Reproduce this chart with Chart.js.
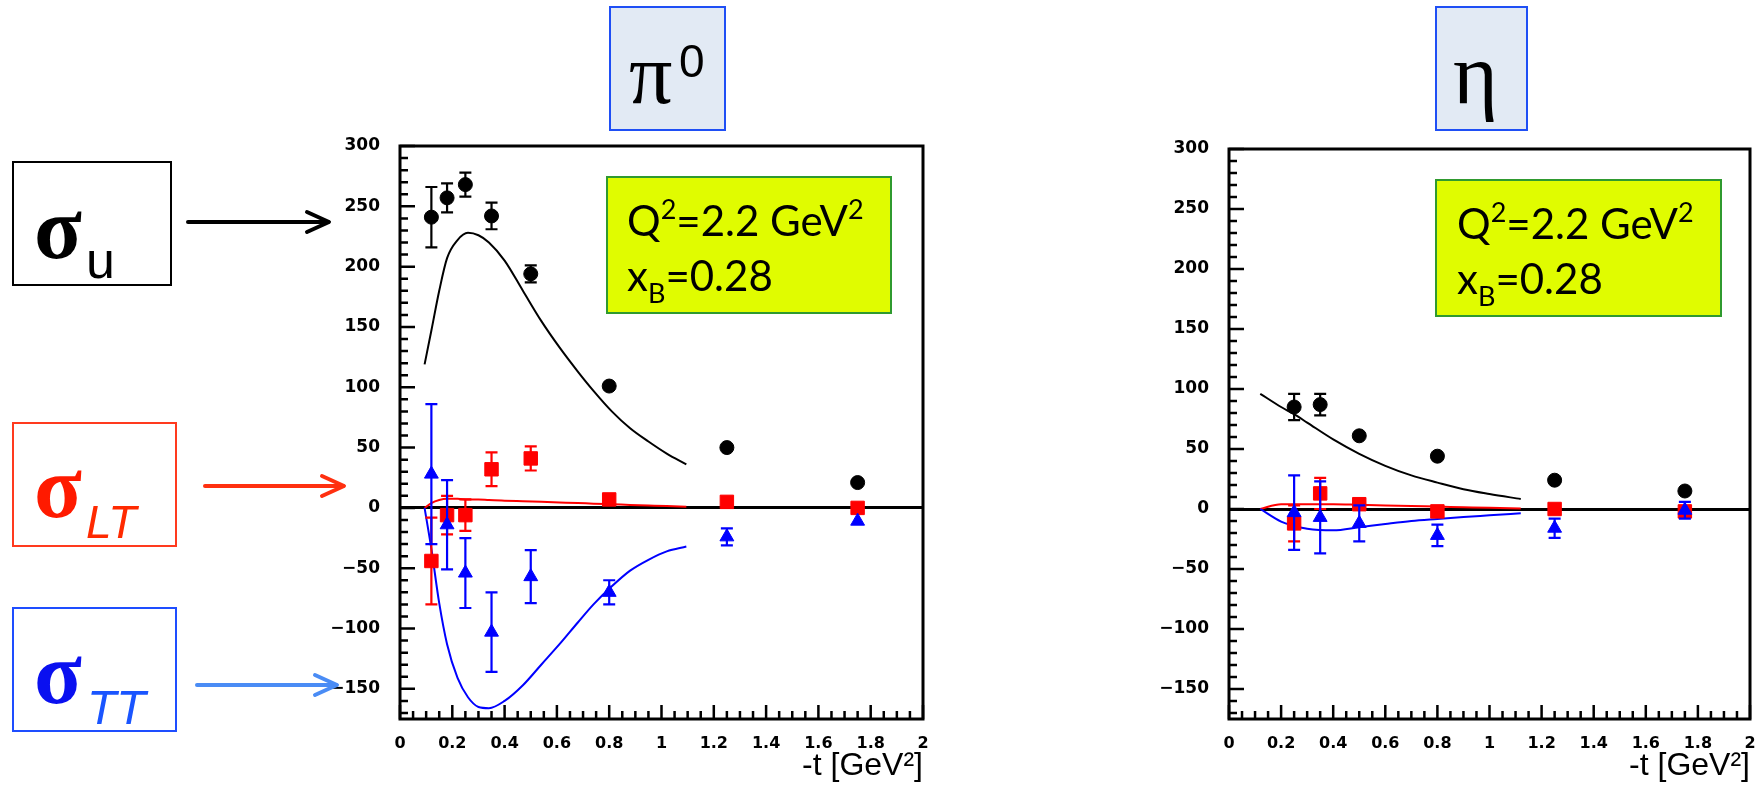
<!DOCTYPE html>
<html lang="en">
<head>
<meta charset="UTF-8">
<title>pi0 and eta structure functions</title>
<script src="https://cdn.jsdelivr.net/npm/chart.js"></script>
<style>
    body { margin: 0; background: #fff; width: 1763px; height: 785px; overflow: hidden; position: relative; font-family: 'Liberation Sans', Arial, sans-serif; }
    .plot { position: absolute; }
    .plot canvas { display: block; }
    #overlay { position: absolute; left: 0; top: 0; pointer-events: none; }
</style>
</head>
<body>
<div class="plot" style="left:330px;top:106px;width:610px;height:679px;"><canvas id="piChart" width="610" height="679"></canvas></div>
<div class="plot" style="left:1159px;top:109px;width:604px;height:676px;"><canvas id="etaChart" width="604" height="676"></canvas></div>

<svg id="overlay" width="1763" height="785" xmlns="http://www.w3.org/2000/svg">
    <!-- titles -->
    <rect x="610" y="7" width="115" height="123" fill="#e2eaf4" stroke="#1f4ff5" stroke-width="2"/>
    <text x="629" y="103" font-family="Liberation Serif" font-size="86">π</text>
    <text x="679" y="77" font-family="Liberation Sans" font-size="46">0</text>
    <rect x="1436" y="7" width="91" height="123" fill="#e2eaf4" stroke="#1f4ff5" stroke-width="2"/>
    <text x="1453" y="103" font-family="Liberation Serif" font-size="86">η</text>

    <!-- legend boxes -->
    <rect x="13" y="162" width="158" height="123" fill="none" stroke="#000" stroke-width="2"/>
    <text x="34" y="258" font-family="Liberation Serif" font-weight="bold" font-size="88">σ</text>
    <text x="86" y="278" font-family="Liberation Sans" font-size="52">u</text>

    <rect x="13" y="423" width="163" height="123" fill="none" stroke="#ff3a1e" stroke-width="2"/>
    <text x="34" y="517" font-family="Liberation Serif" font-weight="bold" font-size="88" fill="#ff1a00">σ</text>
    <text x="86" y="538" font-family="Liberation Sans" font-style="italic" font-size="46" fill="#ff2a00">LT</text>

    <rect x="13" y="608" width="163" height="123" fill="none" stroke="#1e4dff" stroke-width="2"/>
    <text x="34" y="703" font-family="Liberation Serif" font-weight="bold" font-size="88" fill="#0a10f0">σ</text>
    <text x="87" y="724" font-family="Liberation Sans" font-style="italic" font-size="48" fill="#1a55ff">TT</text>

    <!-- arrows -->
    <g fill="none" stroke-width="4" stroke-linecap="round" stroke-linejoin="round">
        <line x1="188" y1="222" x2="328" y2="222" stroke="#000"/>
        <polyline points="307,212 329,222 307,232" stroke="#000"/>
        <line x1="205" y1="486" x2="343" y2="486" stroke="#ff3010"/>
        <polyline points="322,476 344,486 322,496" stroke="#ff3010"/>
        <line x1="197" y1="685" x2="336" y2="685" stroke="#4a8cf5"/>
        <polyline points="315,675 337,685 315,695" stroke="#4a8cf5"/>
    </g>

    <!-- kinematics boxes -->
    <rect x="607" y="177" width="284" height="136" fill="#e0fc00" stroke="#2f9a2f" stroke-width="2"/>
    <text x="627" y="236" font-family="Lato" font-size="42">Q<tspan dy="-17" font-size="27">2</tspan><tspan dy="17">=2.2 GeV</tspan><tspan dy="-17" font-size="27">2</tspan></text>
    <text x="627" y="291" font-family="Lato" font-size="42">x<tspan dy="12" font-size="27">B</tspan><tspan dy="-12">=0.28</tspan></text>

    <rect x="1436" y="180" width="285" height="136" fill="#e0fc00" stroke="#2f9a2f" stroke-width="2"/>
    <text x="1457" y="239" font-family="Lato" font-size="42">Q<tspan dy="-17" font-size="27">2</tspan><tspan dy="17">=2.2 GeV</tspan><tspan dy="-17" font-size="27">2</tspan></text>
    <text x="1457" y="294" font-family="Lato" font-size="42">x<tspan dy="12" font-size="27">B</tspan><tspan dy="-12">=0.28</tspan></text>
</svg>

<script>
// pi0 data, Q2=2.2 GeV2, xB=0.28
const piT = [0.12, 0.18, 0.25, 0.35, 0.50, 0.80, 1.25, 1.75];
const piSigU = [241, 257, 268, 242, 194, 101, 50, 21];
const piSigUErr = [25, 12, 10, 11, 7, 0, 0, 0];
const piSigLT = [-44, -6, -6, 32, 41, 7, 5, 0];
const piSigLTErr = [36, 16, 13, 14, 10, 0, 0, 0];
const piSigTT = [28, -14, -54, -103, -57, -70, -24, -11];
const piSigTTErr = [58, 37, 29, 33, 22, 10, 7, 0];

// pi0 model curves
const piModelT = [0.094, 0.12, 0.15, 0.18, 0.22, 0.26, 0.30, 0.34, 0.40, 0.47, 0.54, 0.61, 0.68, 0.74, 0.81, 0.88, 0.95, 1.02, 1.095];
const piModelU = [119, 147, 180, 207, 222, 228, 226, 220, 205, 180, 155, 133, 113, 97, 80, 66, 55, 45, 36];
const piModelLT = [0, 4, 6.5, 7.5, 7.5, 7, 7, 6.5, 6, 5.5, 5, 4.5, 4, 3.5, 3, 2.5, 2, 1.5, 1];
const piModelTT = [0, -34, -79, -113, -141, -157, -165, -166, -160, -147, -130, -113, -95, -80, -65, -52, -43, -36, -32];

// eta data
const etaT = [0.25, 0.35, 0.50, 0.80, 1.25, 1.75];
const etaSigU = [85, 87, 61, 44, 24, 15];
const etaSigUErr = [11, 9, 0, 0, 0, 0];
const etaSigLT = [-12, 13, 4, -2, 0, -2];
const etaSigLTErr = [15, 13, 0, 0, 0, 0];
const etaSigTT = [-3, -7, -12, -22, -16, -1];
const etaSigTTErr = [31, 30, 15, 9, 8, 7];

// eta model curves
const etaModelT = [0.12, 0.2, 0.25, 0.3, 0.4, 0.5, 0.6, 0.7, 0.8, 0.9, 1.0, 1.12];
const etaModelU = [96, 85, 79, 72, 58, 46, 36, 28, 22, 16.5, 12.5, 8.3];
const etaModelLT = [0, 4, 4, 4, 4, 3.5, 3, 2.5, 2, 1.5, 1, 0.5];
const etaModelTT = [0, -10.5, -14, -16.5, -17.8, -15.2, -12.5, -10, -8.3, -6.7, -5.3, -3.6];

const xTickStep = 0.2;
const yTickStep = 50;

function pts(t, v) {
    return t.map((x, i) => ({ x: x, y: v[i] }));
}

// vertical error bars, drawn just before the markers of each dataset
const errorBars = {
    id: 'errorBars',
    beforeDatasetDraw(chart, args) {
        const ds = chart.data.datasets[args.index];
        if (!ds.errors) return;
        const ctx = chart.ctx, xs = chart.scales.x, ys = chart.scales.y;
        ctx.save();
        ctx.strokeStyle = ds.pointBorderColor;
        ctx.lineWidth = 2.2;
        ctx.beginPath();
        ds.data.forEach((p, i) => {
            const e = ds.errors[i];
            if (!e) return;
            const px = xs.getPixelForValue(p.x);
            const top = ys.getPixelForValue(p.y + e);
            const bot = ys.getPixelForValue(p.y - e);
            ctx.moveTo(px, top); ctx.lineTo(px, bot);
            ctx.moveTo(px - 6, top); ctx.lineTo(px + 6, top);
            ctx.moveTo(px - 6, bot); ctx.lineTo(px + 6, bot);
        });
        ctx.stroke();
        ctx.restore();
    }
};

// ROOT style frame with inward ticks
const frameTicks = {
    id: 'frameTicks',
    afterDatasetsDraw(chart) {
        const ctx = chart.ctx, a = chart.chartArea, xs = chart.scales.x, ys = chart.scales.y;
        ctx.save();
        ctx.strokeStyle = '#000';
        ctx.lineWidth = 2.5;
        ctx.beginPath();
        for (let i = 0; i <= 40; i++) {
            const v = i * 0.05;
            const px = xs.getPixelForValue(v);
            const len = i % 4 === 0 ? 14 : 8;
            ctx.moveTo(px, a.bottom); ctx.lineTo(px, a.bottom - len);
        }
        for (let v = Math.ceil(ys.min / 10) * 10; v <= ys.max; v += 10) {
            const py = ys.getPixelForValue(v);
            const len = v % 50 === 0 ? 15 : 8;
            ctx.moveTo(a.left, py); ctx.lineTo(a.left + len, py);
        }
        ctx.stroke();
        ctx.lineWidth = 3;
        ctx.strokeRect(a.left, a.top, a.right - a.left, a.bottom - a.top);
        ctx.restore();
    }
};

function makeChart(id, padRight, t, u, uErr, lt, ltErr, tt, ttErr, mt, mu, mlt, mtt) {
    const ctx = document.getElementById(id).getContext('2d');
    return new Chart(ctx, {
        type: 'scatter',
        data: {
            datasets: [
                { data: pts(t, tt), errors: ttErr, pointStyle: 'triangle', pointRadius: 8, pointBackgroundColor: '#0000ff', pointBorderColor: '#0000ff', pointBorderWidth: 1 },
                { data: pts(t, lt), errors: ltErr, pointStyle: 'rect', pointRadius: 9.5, pointBackgroundColor: '#ff0000', pointBorderColor: '#ff0000', pointBorderWidth: 1 },
                { data: pts(t, u), errors: uErr, pointStyle: 'circle', pointRadius: 7, pointBackgroundColor: '#000', pointBorderColor: '#000', pointBorderWidth: 1 },
                { data: pts(mt, mtt), showLine: true, pointRadius: 0, borderColor: '#0000ff', borderWidth: 2, cubicInterpolationMode: 'monotone' },
                { data: pts(mt, mlt), showLine: true, pointRadius: 0, borderColor: '#ff0000', borderWidth: 2, cubicInterpolationMode: 'monotone' },
                { data: pts(mt, mu), showLine: true, pointRadius: 0, borderColor: '#000', borderWidth: 2, cubicInterpolationMode: 'monotone' }
            ]
        },
        options: {
            responsive: false,
            animation: false,
            events: [],
            // top padding is larger than the y label padding so the plot top is exact
            layout: { padding: { top: 40, right: padRight, left: 0, bottom: 0 } },
            plugins: { legend: { display: false }, tooltip: { enabled: false } },
            scales: {
                x: {
                    type: 'linear', min: 0, max: 2,
                    afterFit: s => { s.height = 66; },
                    grid: { display: false },
                    border: { display: false },
                    ticks: {
                        stepSize: xTickStep, autoSkip: false, maxRotation: 0, padding: 7, color: '#000',
                        font: { family: 'DejaVu Sans', weight: 'bold', size: 16 },
                        callback: v => v === 0 ? '0' : String(Number(v.toFixed(1)))
                    },
                    title: { display: true, text: '-t [GeV²]', align: 'end', color: '#000', padding: 0, font: { family: 'Liberation Sans', size: 32 } }
                },
                y: {
                    min: -175, max: 300,
                    afterFit: s => { s.width = 70; },
                    grid: { drawTicks: false, lineWidth: 3, color: c => c.tick && c.tick.value === 0 ? '#000' : 'rgba(0,0,0,0)' },
                    border: { display: false },
                    ticks: {
                        stepSize: yTickStep, includeBounds: false, padding: 20, color: '#000',
                        font: { family: 'DejaVu Sans', weight: 'bold', size: 17 },
                        callback: v => v < 0 ? '\u2212' + Math.abs(v) : String(v)
                    }
                }
            }
        },
        plugins: [errorBars, frameTicks]
    });
}

makeChart('piChart', 17, piT, piSigU, piSigUErr, piSigLT, piSigLTErr, piSigTT, piSigTTErr, piModelT, piModelU, piModelLT, piModelTT);
makeChart('etaChart', 13, etaT, etaSigU, etaSigUErr, etaSigLT, etaSigLTErr, etaSigTT, etaSigTTErr, etaModelT, etaModelU, etaModelLT, etaModelTT);
</script>
</body>
</html>
